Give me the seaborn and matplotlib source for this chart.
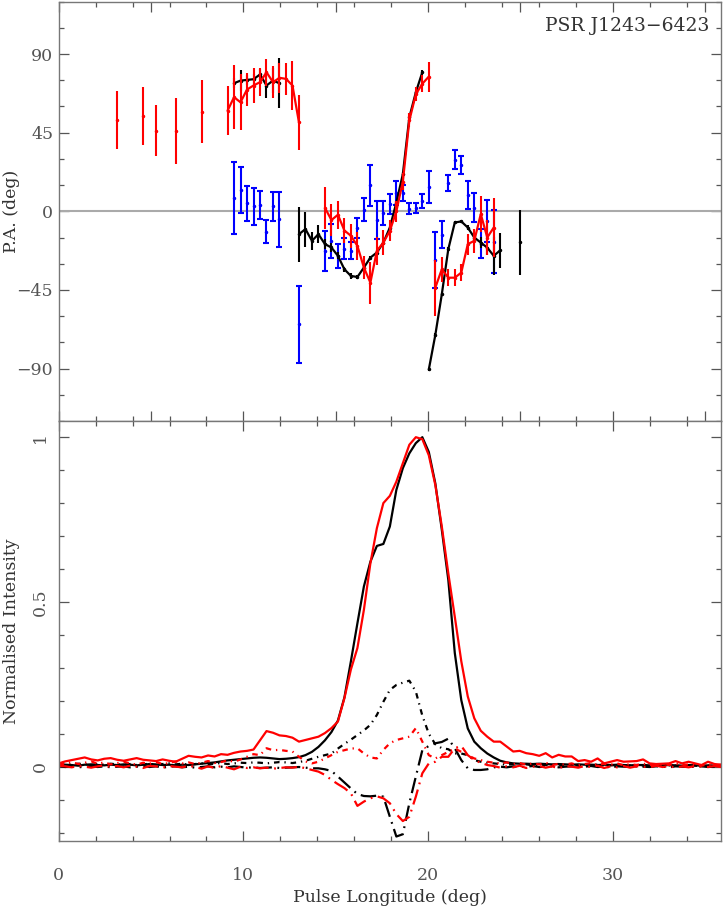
import numpy as np
import pandas as pd
import matplotlib
matplotlib.use('Agg')
import matplotlib.pyplot as plt
from matplotlib.ticker import MultipleLocator
import seaborn as sns

# longitude bins: 1024 bins across the full turn
bin_width = 360.0 / 1024
n_bins = 103

# ---- position angle, three frequencies (bin index, PA, error) ----
blue_bins = [27, 28, 29, 30, 31, 32, 33, 34, 37,
             41, 42, 43, 44, 45, 46, 47, 48, 49, 50, 51, 52, 53, 54, 55, 56, 57,
             58, 59, 60, 61, 62, 63, 64, 65, 66, 67]
blue_pa = [7.6, 12.1, 4.5, 2.8, 3.7, -11.7, 2.8, -4.5, -64.7,
           -22.6, -17.0, -25.5, -21.4, -22.6, -9.5, 1.0, 14.9, -5.0, -1.0, 4.1, 10.4, 10.6, 1.6, 1.9, 5.8, 13.9,
           -27.9, -13.3, 16.3, 29.6, 26.5, 9.4, 1.9, -18.6, -5.7, -17.4]
blue_err = [20.6, 13.0, 9.9, 10.7, 8.1, 6.5, 8.2, 15.8, 22.0,
            11.5, 10.0, 6.7, 6.0, 4.8, 5.5, 6.5, 11.8, 11.0, 6.7, 5.7, 6.7, 4.6, 2.9, 2.6, 4.0, 8.9,
            15.8, 7.8, 4.6, 5.4, 5.3, 8.1, 8.3, 8.4, 12.1, 18.2]

black_bins = [27, 28, 29, 30, 31, 32, 33, 34,
              37, 38, 39, 40, 41, 42, 43, 44, 45, 46, 47, 48, 49, 50, 51, 52, 53, 54, 55, 56,
              57, 58, 59, 60, 61, 62, 63, 64, 65, 66, 67, 68, 71]
black_pa = [73.3, 74.8, 75.2, 75.6, 78.3, 72.0, 74.8, 73.3,
            -13.1, -10.2, -16.9, -13.1, -18.8, -20.7, -25.5, -33.2, -37.0, -37.6, -32.2, -26.5,
            -23.6, -17.9, -9.3, 5.0, 21.3, 53.8, 68.1, 79.6,
            -90.5, -70.8, -47.5, -21.7, -6.4, -5.8, -9.3, -15.0, -17.9, -20.8, -25.5, -22.3, -17.8]
black_err = [3.0, 6.0, 3.0, 3.0, 3.0, 7.0, 7.0, 14.3,
             15.8, 10.0, 5.0, 5.0, 3.0, 2.5, 2.0, 1.5, 1.5, 1.0, 1.0, 1.0,
             1.0, 1.0, 1.0, 1.0, 1.0, 1.0, 1.0, 1.5,
             1.0, 1.0, 1.0, 1.0, 1.0, 1.0, 1.5, 2.0, 3.0, 4.0, 11.0, 10.0, 18.6]

red_bins = [9, 13, 15, 18, 22,
            26, 27, 28, 29, 30, 31, 32, 33, 34, 35, 36, 37,
            41, 42, 43, 44, 45, 46, 47, 48, 49, 50, 51, 52, 53, 54, 55, 56, 57,
            58, 59, 60, 61, 62, 63, 64, 65, 66, 67]
red_pa = [52.3, 54.6, 46.2, 46.2, 57.0,
          57.6, 65.3, 62.4, 69.7, 72.0, 73.9, 79.6, 73.9, 76.4, 75.8, 72.0, 50.9,
          2.0, -5.0, -2.0, -11.0, -14.0, -19.8, -32.2, -40.8, -22.6, -17.9, -11.2, 0.0, 17.0,
          52.0, 67.0, 73.0, 77.1,
          -43.7, -33.2, -38.0, -38.0, -35.1, -18.8, -16.9, -1.6, -15.0, -9.3]
red_err = [16.7, 16.6, 14.7, 18.9, 18.0,
           14.0, 18.3, 16.0, 9.3, 10.0, 8.0, 7.6, 9.0, 8.6, 9.0, 13.9, 15.8,
           12.0, 9.0, 8.0, 7.0, 7.0, 8.0, 6.5, 12.0, 8.0, 7.0, 6.0, 6.0, 5.0,
           4.0, 4.0, 5.0, 8.6,
           16.0, 7.0, 5.0, 5.0, 5.0, 6.0, 7.0, 10.5, 10.0, 17.0]

# ---- normalised profiles, bins 0..102 ----
black_I = [0.004, 0.006, 0.005, 0.003, 0.006, 0.007, 0.005, 0.004, 0.006, 0.005,
           0.007, 0.006, 0.004, 0.006, 0.008, 0.007, 0.005, 0.006, 0.004, 0.006,
           0.005, 0.007, 0.009, 0.011, 0.013, 0.016, 0.019, 0.021, 0.023, 0.025,
           0.027, 0.028, 0.027, 0.025, 0.023, 0.024, 0.026, 0.029, 0.035, 0.045,
           0.060, 0.080, 0.105, 0.140, 0.210, 0.320, 0.435, 0.547, 0.622, 0.670,
           0.676, 0.729, 0.840, 0.906, 0.951, 0.982, 1.000, 0.955, 0.860, 0.719,
           0.567, 0.345, 0.202, 0.116, 0.076, 0.056, 0.040, 0.028, 0.018, 0.013,
           0.010, 0.009, 0.009, 0.008, 0.009, 0.008, 0.007, 0.008, 0.007, 0.006,
           0.007, 0.006, 0.006, 0.005, 0.006, 0.005, 0.006, 0.005, 0.004, 0.005,
           0.005, 0.004, 0.005, 0.004, 0.005, 0.004, 0.003, 0.005, 0.004, 0.003,
           0.004, 0.003, 0.003]
red_I = [0.010, 0.016, 0.020, 0.024, 0.028, 0.022, 0.019, 0.024, 0.026, 0.021,
         0.018, 0.022, 0.026, 0.021, 0.019, 0.017, 0.022, 0.018, 0.015, 0.024,
         0.033, 0.030, 0.028, 0.034, 0.031, 0.038, 0.036, 0.042, 0.046, 0.048,
         0.052, 0.080, 0.108, 0.103, 0.095, 0.093, 0.088, 0.076, 0.081, 0.086,
         0.091, 0.102, 0.117, 0.137, 0.208, 0.295, 0.360, 0.476, 0.617, 0.724,
         0.800, 0.822, 0.865, 0.921, 0.977, 1.000, 0.994, 0.945, 0.855, 0.729,
         0.587, 0.455, 0.320, 0.213, 0.147, 0.109, 0.091, 0.076, 0.076, 0.061,
         0.046, 0.048, 0.041, 0.038, 0.033, 0.041, 0.028, 0.036, 0.031, 0.031,
         0.017, 0.020, 0.015, 0.025, 0.010, 0.015, 0.020, 0.015, 0.016, 0.017,
         0.022, 0.010, 0.008, 0.009, 0.010, 0.017, 0.010, 0.015, 0.010, 0.005,
         0.015, 0.008, 0.006]
black_L = [0.010, 0.008, 0.006, 0.009, 0.007, 0.005, 0.008, 0.006, 0.009, 0.007,
           0.006, 0.008, 0.005, 0.007, 0.009, 0.006, 0.008, 0.010, 0.007, 0.009,
           0.006, 0.008, 0.010, 0.007, 0.009, 0.011, 0.008, 0.010, 0.012, 0.011,
           0.013, 0.012, 0.010, 0.012, 0.014, 0.013, 0.011, 0.014, 0.018, 0.024,
           0.030, 0.035, 0.040, 0.055, 0.069, 0.082, 0.096, 0.110, 0.127, 0.157,
           0.197, 0.233, 0.248, 0.255, 0.261, 0.228, 0.155, 0.100, 0.068, 0.056,
           0.053, 0.040, 0.040, 0.035, 0.020, 0.015, 0.012, 0.010, 0.008, 0.006,
           0.008, 0.005, 0.007, 0.004, 0.006, 0.005, 0.003, 0.006, 0.004, 0.005,
           0.003, 0.005, 0.004, 0.006, 0.003, 0.004, 0.005, 0.003, 0.004, 0.002,
           0.004, 0.003, 0.005, 0.002, 0.004, 0.003, 0.002, 0.004, 0.003, 0.002,
           0.003, 0.002, 0.003]
red_L = [0.005, 0.010, 0.014, 0.008, 0.012, 0.016, 0.009, 0.013, 0.007, 0.011,
         0.015, 0.010, 0.006, 0.012, 0.009, 0.014, 0.008, 0.011, 0.016, 0.010,
         0.013, 0.008, 0.012, 0.017, 0.011, 0.014, 0.019, 0.015, 0.022, 0.030,
         0.038, 0.035, 0.056, 0.050, 0.051, 0.048, 0.046, 0.030, 0.016, 0.010,
         0.015, 0.025, 0.035, 0.045, 0.050, 0.055, 0.056, 0.040, 0.028, 0.025,
         0.051, 0.071, 0.081, 0.086, 0.091, 0.117, 0.076, 0.035, 0.025, 0.035,
         0.045, 0.055, 0.045, 0.035, 0.025, 0.020, 0.015, 0.012, 0.010, 0.013,
         0.008, 0.011, 0.006, 0.010, 0.007, 0.012, 0.005, 0.009, 0.006, 0.010,
         0.004, 0.008, 0.011, 0.005, 0.009, 0.006, 0.010, 0.004, 0.008, 0.005,
         0.009, 0.006, 0.003, 0.008, 0.005, 0.010, 0.004, 0.007, 0.005, 0.003,
         0.007, 0.004, 0.006]
black_V = [0.002, -0.001, 0.001, -0.002, 0.000, 0.002, -0.001, 0.001, -0.002, 0.000,
           0.001, -0.002, 0.000, 0.002, -0.001, 0.001, -0.003, 0.000, 0.001, -0.002,
           0.000, -0.003, -0.001, 0.001, -0.002, 0.000, -0.002, 0.001, -0.001, -0.003,
           -0.002, -0.004, -0.003, -0.002, -0.004, -0.003, -0.002, -0.001, -0.003, -0.005,
           -0.005, -0.008, -0.013, -0.030, -0.048, -0.066, -0.083, -0.089, -0.090, -0.088,
           -0.091, -0.152, -0.212, -0.205, -0.111, -0.030, 0.050, 0.063, 0.071, 0.075,
           0.085, 0.056, 0.020, -0.005, -0.010, -0.010, -0.008, -0.002, 0.000, -0.002,
           0.001, -0.001, 0.000, 0.002, -0.001, 0.000, 0.001, -0.002, 0.000, 0.001,
           -0.001, 0.000, 0.002, -0.001, 0.000, -0.002, 0.001, 0.000, -0.001, 0.001,
           0.000, -0.001, 0.001, 0.000, -0.002, 0.001, 0.000, -0.001, 0.000, 0.001,
           -0.001, 0.000, 0.001]
red_V = [0.003, 0.001, -0.002, 0.002, 0.000, -0.003, 0.001, 0.004, -0.001, 0.002,
         -0.002, 0.003, 0.000, -0.004, 0.002, 0.001, -0.003, 0.002, 0.000, -0.002,
         0.003, -0.001, -0.006, 0.001, -0.004, 0.002, -0.003, -0.008, 0.000, -0.004,
         -0.002, -0.005, -0.003, -0.006, -0.004, -0.002, -0.003, 0.000, -0.005, -0.010,
         -0.015, -0.025, -0.040, -0.053, -0.065, -0.081, -0.119, -0.106, -0.096, -0.090,
         -0.096, -0.111, -0.144, -0.165, -0.152, -0.091, -0.020, 0.010, 0.015, 0.030,
         0.030, 0.056, 0.063, 0.035, 0.020, 0.012, 0.005, 0.002, -0.003, 0.001,
         -0.002, 0.003, -0.004, 0.000, 0.002, -0.003, 0.001, -0.005, 0.002, 0.000,
         -0.003, 0.002, -0.001, 0.003, -0.004, 0.001, -0.002, 0.002, -0.003, 0.001,
         0.000, -0.002, 0.003, -0.001, 0.002, -0.003, 0.001, -0.002, 0.002, 0.000,
         -0.001, 0.002, -0.001]

psr_name = 'PSR J1243\u22126423'


def pa_frame(bins, pa, err):
    df = pd.DataFrame({'bin': bins, 'pa': pa, 'err': err})
    df['lon'] = df['bin'] * bin_width
    # new segment where bins are not adjacent or the PA wraps
    brk = (df['bin'].diff() != 1) | (df['pa'].diff().abs() > 90)
    df['seg'] = brk.cumsum()
    return df


sns.set_style('ticks')
plt.rcParams['font.family'] = ['DejaVu Serif']
plt.rcParams['font.size'] = 12.5
plt.rcParams['text.color'] = '#333333'
plt.rcParams['axes.labelcolor'] = '#333333'
plt.rcParams['xtick.color'] = '#555555'
plt.rcParams['ytick.color'] = '#555555'

fig = plt.figure(figsize=(7.25, 9.09), dpi=100)
ax1 = fig.add_axes([0.081, 0.5369, 0.9135, 0.4613])
ax2 = fig.add_axes([0.081, 0.0748, 0.9135, 0.4620])

# ---------------- top panel : position angle ----------------
ax1.axhline(0, color='#aaaaaa', lw=1.5, zorder=1)

series = [(blue_bins, blue_pa, blue_err, '#0000ff', 2.2),
          (black_bins, black_pa, black_err, 'black', 0),
          (red_bins, red_pa, red_err, '#ff0000', 0)]
for i, (b, p, e, col, cap) in enumerate(series):
    df = pa_frame(b, p, e)
    ax1.errorbar(df['lon'], df['pa'], yerr=df['err'], fmt='o', ms=1.5,
                 color=col, elinewidth=1.5, capsize=cap, capthick=1.5,
                 zorder=2 + i)
    if col != '#0000ff':
        sns.lineplot(data=df, x='lon', y='pa', units='seg', estimator=None,
                     sort=False, color=col, lw=1.6, ax=ax1, zorder=2 + i)

ax1.set_xlim(0, 35.86)
ax1.set_ylim(-120, 120)
ax1.set_yticks([-90, -45, 0, 45, 90])
ax1.yaxis.set_minor_locator(MultipleLocator(15))
ax1.set_xlabel('')
ax1.set_ylabel('P.A. (deg)')
ax1.yaxis.set_label_coords(-0.058, 0.5)
ax1.tick_params(labelbottom=False)
ax1.text(0.983, 0.963, psr_name, transform=ax1.transAxes, ha='right', va='top',
         fontsize=13.5)

# ---------------- bottom panel : profiles ----------------
profiles = {'I2': black_I, 'I1': red_I, 'L2': black_L, 'L1': red_L,
            'V2': black_V, 'V1': red_V}
prof = pd.concat([pd.DataFrame({'lon': np.arange(n_bins) * bin_width,
                                'val': v, 'curve': k})
                  for k, v in profiles.items()], ignore_index=True)
order = ['L2', 'V2', 'I2', 'L1', 'V1', 'I1']
palette = {'I2': 'black', 'L2': 'black', 'V2': 'black',
           'I1': '#ff0000', 'L1': '#ff0000', 'V1': '#ff0000'}
dashes = {'I2': '', 'I1': '', 'L2': (2.5, 2.2, 0.6, 2.2),
          'L1': (2.5, 2.2, 0.6, 2.2), 'V2': (7, 2.5, 0.8, 2.5),
          'V1': (7, 2.5, 0.8, 2.5)}
sns.lineplot(data=prof, x='lon', y='val', hue='curve', style='curve',
             hue_order=order, style_order=order, palette=palette,
             dashes=dashes, estimator=None, lw=1.6, legend=False, ax=ax2)

ax2.set_xlim(0, 35.86)
ax2.set_ylim(-0.2256, 1.049)
ax2.set_yticks([0, 0.5, 1])
ax2.set_yticklabels(['0', '0.5', '1'], rotation=90, va='center')
ax2.yaxis.set_minor_locator(MultipleLocator(0.1))
ax2.set_xticks([0, 10, 20, 30])
ax2.set_ylabel('Normalised Intensity')
ax2.yaxis.set_label_coords(-0.058, 0.5)
ax2.set_xlabel('Pulse Longitude (deg)')
ax2.xaxis.set_label_coords(0.5, -0.115)

for ax in (ax1, ax2):
    ax.xaxis.set_minor_locator(MultipleLocator(2))
    ax.tick_params(which='both', direction='in', top=True, right=True,
                   width=0.9)
    ax.tick_params(which='major', length=7.5)
    ax.tick_params(which='minor', length=3.8)
    for s in ax.spines.values():
        s.set_color('#777777')
        s.set_linewidth(1.0)
ax1.tick_params(axis='y', pad=4)
ax2.tick_params(axis='y', pad=7)
ax2.tick_params(axis='x', pad=19)

fig.savefig('out.png', dpi=100)
